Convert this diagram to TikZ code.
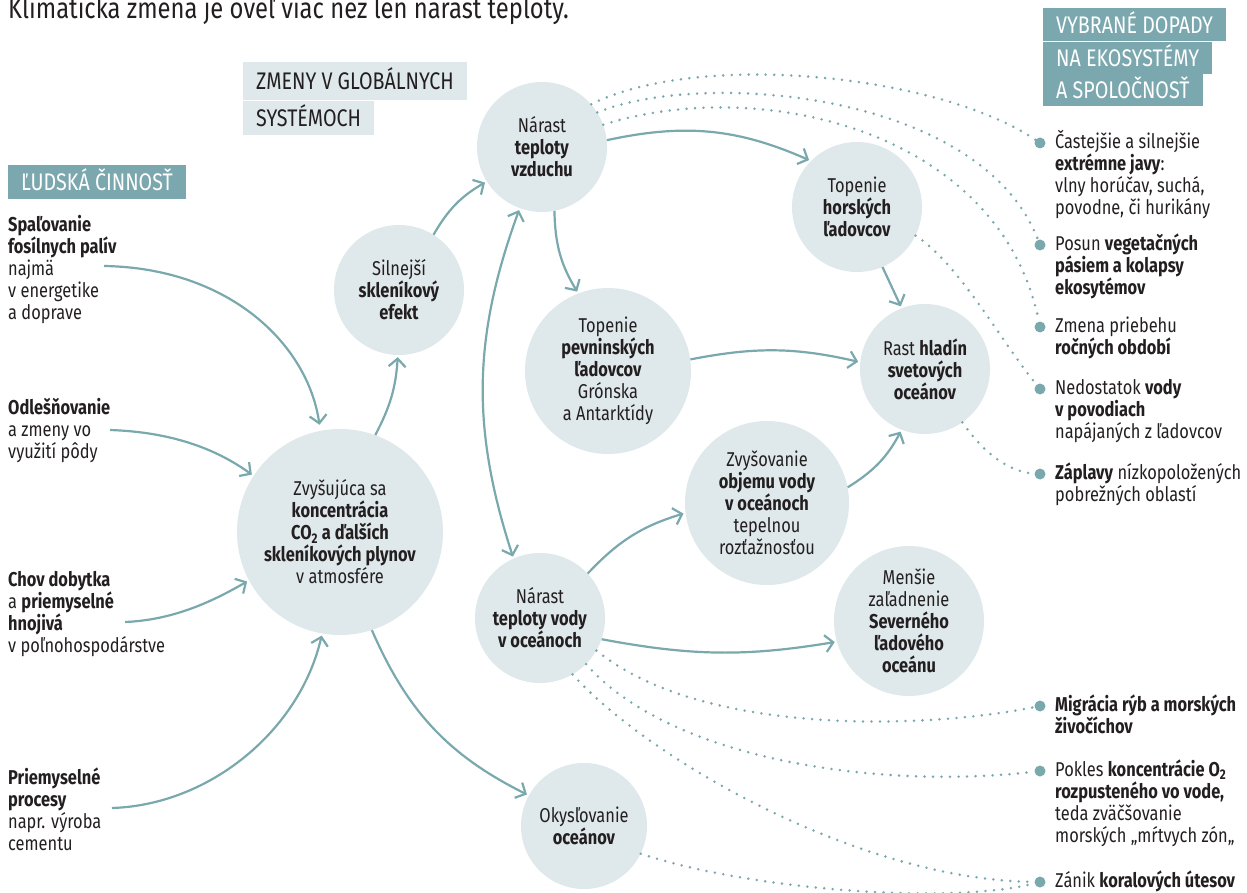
\documentclass[tikz,border=0pt]{standalone}
\usepackage{fontspec}
\setmainfont{Fira Sans}[FakeStretch=0.82]
\usetikzlibrary{arrows.meta,positioning}

\definecolor{tealline}{HTML}{79A8AD}
\definecolor{tealbox}{HTML}{7BA8AE}
\definecolor{bubblefill}{HTML}{DFE8EA}
\definecolor{ink}{HTML}{231F20}

\newcommand{\txt}{\fontsize{20}{22}\selectfont}
\newcommand{\hdrfont}{\fontsize{24}{28}\selectfont}
\newcommand{\tl}{\rule{0pt}{19pt}}

\tikzset{
  bubble/.style={circle,fill=bubblefill,inner sep=0pt,align=center,text=ink,font=\txt},
  item/.style={anchor=north west,align=left,inner sep=0pt,font=\txt,text=ink},
  hdr/.style={anchor=north west,inner xsep=13pt,inner ysep=0pt,minimum height=34pt,
    text height=17pt,text depth=0pt,font=\hdrfont},
  arr/.style={->,tealline,line width=2.2pt,shorten >=2pt},
  dots/.style={tealline,line width=2.8pt,line cap=round,dash pattern=on 0pt off 8.5pt},
  dotmark/.style={circle,fill=tealline,inner sep=0pt,minimum size=11pt}
}

\begin{document}
\begin{tikzpicture}[x=1pt,y=-1pt,>={Straight Barb[length=8pt,width=17pt]}]
  \useasboundingbox (0,0) rectangle (1247,893);

  % Title, cut at the top edge
  \node[anchor=base west,inner sep=0pt,font=\fontsize{29}{30}\selectfont,text=ink] (titul) at (8,19)
    {Klimatická zmena je oveľ viac než len nárast teploty.};

  % Column headers
  \node[hdr,fill=tealbox,text=white] (ludia) at (8,165) {ĽUDSKÁ ČINNOSŤ};
  \node[hdr,fill=bubblefill,text=ink,minimum height=38pt] (zmeny1) at (243,62) {ZMENY V GLOBÁLNYCH};
  \node[hdr,fill=bubblefill,text=ink,minimum height=34pt,below right=0pt and 0pt of zmeny1.south west] (zmeny2) {SYSTÉMOCH};
  \node[hdr,fill=tealbox,text=white,minimum height=33pt] (dopad1) at (1043,8) {VYBRANÉ DOPADY};
  \node[hdr,fill=tealbox,text=white,minimum height=32pt,below right=0pt and 0pt of dopad1.south west] (dopad2) {NA EKOSYSTÉMY};
  \node[hdr,fill=tealbox,text=white,minimum height=32pt,below right=0pt and 0pt of dopad2.south west] (dopad3) {A SPOLOČNOSŤ};

  % Human activity
  \node[item] (spal) at (8,212) {\tl\textbf{Spaľovanie}\\\textbf{fosílnych palív}\\najmä\\v energetike\\a doprave};
  \node[item] (odles) at (8,395) {\tl\textbf{Odlešňovanie}\\a zmeny vo\\využití pôdy};
  \node[item] (chov) at (8,567) {\tl\textbf{Chov dobytka}\\a \textbf{priemyselné}\\\textbf{hnojivá}\\v poľnohospodárstve};
  \node[item] (prie) at (8,765) {\tl\textbf{Priemyselné}\\\textbf{procesy}\\napr. výroba\\cementu};
  \coordinate (spal-out) at (104,266);
  \coordinate (odles-out) at (110,430);
  \coordinate (chov-out) at (125,622);
  \coordinate (prie-out) at (112,808);

  % Global systems
  \node[bubble,minimum size=130pt] (vzduch) at (542,147) {Nárast\\\textbf{teploty}\\\textbf{vzduchu}};
  \node[bubble,minimum size=130pt] (efekt) at (399,290) {Silnejší\\\textbf{skleníkový}\\\textbf{efekt}};
  \node[bubble,minimum size=206pt] (co2) at (340,532) {Zvyšujúca sa\\\textbf{koncentrácia}\\\textbf{CO\textsubscript{2} a ďalších}\\\textbf{skleníkových plynov}\\v atmosfére};
  \node[bubble,minimum size=130pt] (voda) at (540,618) {Nárast\\\textbf{teploty vody}\\\textbf{v oceánoch}};
  \node[bubble,minimum size=126pt] (kysl) at (584,826) {Okysľovanie\\\textbf{oceánov}};
  \node[bubble,minimum size=166pt] (pevnina) at (608,371) {Topenie\\\textbf{pevninských}\\\textbf{ľadovcov}\\Grónska\\a Antarktídy};
  \node[bubble,minimum size=130pt] (hory) at (857,207) {Topenie\\\textbf{horských}\\\textbf{ľadovcov}};
  \node[bubble,minimum size=130pt] (hladina) at (925,369) {Rast \textbf{hladín}\\\textbf{svetových}\\\textbf{oceánov}};
  \node[bubble,minimum size=164pt] (objem) at (767,503) {Zvyšovanie\\\textbf{objemu vody}\\\textbf{v oceánoch}\\tepelnou\\rozťažnosťou};
  \node[bubble,minimum size=150pt] (arktida) at (909,621) {Menšie\\zaľadnenie\\\textbf{Severného}\\\textbf{ľadového}\\\textbf{oceánu}};

  % Impacts
  \foreach \y/\n in {143/1,245/2,327/3,389/4,474/5,706/6,771/7,882/8}
    \node[dotmark] (b\n) at (1040,\y) {};
  \node[item] (d1) at (1055,129) {\tl Častejšie a silnejšie\\\textbf{extrémne javy}:\\vlny horúčav, suchá,\\povodne, či hurikány};
  \node[item] (d2) at (1055,231) {\tl Posun \textbf{vegetačných}\\\textbf{pásiem a kolapsy}\\\textbf{ekosytémov}};
  \node[item] (d3) at (1055,313) {\tl Zmena priebehu\\\textbf{ročných období}};
  \node[item] (d4) at (1055,375) {\tl Nedostatok \textbf{vody}\\\textbf{v povodiach}\\napájaných z ľadovcov};
  \node[item] (d5) at (1055,460) {\tl\textbf{Záplavy} nízkopoložených\\pobrežných oblastí};
  \node[item] (d6) at (1055,692) {\tl\textbf{Migrácia rýb a morských}\\\textbf{živočíchov}};
  \node[item] (d7) at (1055,757) {\tl Pokles \textbf{koncentrácie O\textsubscript{2}}\\\textbf{rozpusteného vo vode,}\\teda zväčšovanie\\morských „mŕtvych zón„};
  \node[item] (d8) at (1055,868) {\tl Zánik \textbf{koralových útesov}};

  % Arrows from human activity
  \draw[arr,shorten >=6pt] (spal-out) .. controls (230,268) and (308,345) .. (co2.101);
  \draw[arr] (odles-out) .. controls (170,432) and (215,448) .. (co2.147);
  \draw[arr] (chov-out) .. controls (175,620) and (215,600) .. (co2.208);
  \draw[arr] (prie-out) .. controls (210,805) and (300,730) .. (co2.260);

  % Arrows between systems
  \draw[arr] (co2.70) to[bend right=12] (efekt.269);
  \draw[arr] (efekt.58) to[bend left=15] (vzduch.212);
  \draw[arr,<->,shorten <=2pt] (vzduch.250) to[bend right=19] (voda.114);
  \draw[arr] (vzduch.281) to[bend right=15] (pevnina.111);
  \draw[arr] (vzduch.6) to[bend left=18] (hory.135);
  \draw[arr] (hory.293) -- (hladina.111);
  \draw[arr] (pevnina.8) to[bend left=12] (hladina.174);
  \draw[arr] (voda.43) to[bend left=15] (objem.187);
  \draw[arr] (objem.11) to[bend right=15] (hladina.249);
  \draw[arr] (voda.341) to[bend right=10] (arktida.196);
  \draw[arr] (co2.288) to[bend right=20] (kysl.151);

  % Dotted links to impacts
  \draw[dots] (vzduch.41) .. controls (700,50) and (940,75) .. (b1);
  \draw[dots] (vzduch.32) .. controls (700,70) and (980,90) .. (b2);
  \draw[dots] (vzduch.20) .. controls (760,75) and (1000,130) .. (b3);
  \draw[dots] (hory.334) .. controls (960,265) and (1000,340) .. (b4);
  \draw[dots] (hladina.305) .. controls (985,455) and (1010,472) .. (b5);
  \draw[dots] (voda.330) .. controls (700,735) and (920,730) .. (b6);
  \draw[dots] (voda.315) .. controls (670,760) and (880,790) .. (b7);
  \draw[dots] (voda.300) .. controls (650,760) and (860,880) .. (b8);
  \draw[dots] (kysl.334) .. controls (750,890) and (950,905) .. (b8);
\end{tikzpicture}
\end{document}
